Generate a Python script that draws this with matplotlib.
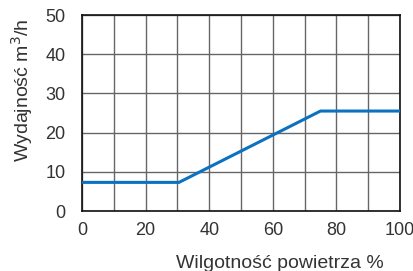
import matplotlib
matplotlib.use("Agg")
import matplotlib.pyplot as plt

humidity = [0, 30.5, 75, 100]
capacity = [7.3, 7.3, 25.5, 25.5]
x_ticks = [0, 20, 40, 60, 80, 100]
y_ticks = [0, 10, 20, 30, 40, 50]

plt.rcParams['font.family'] = ['Liberation Sans', 'DejaVu Sans']

W, H = 414, 271
fig = plt.figure(figsize=(W/100, H/100), dpi=100)
ax = fig.add_axes([82/W, 1-211/H, 318/W, 196/H])

ax.set_xlim(0, 100)
ax.set_ylim(0, 50)
ax.set_xticks(x_ticks)
ax.set_xticks(range(10, 100, 20), minor=True)
ax.set_yticks(y_ticks)
ax.grid(True, which='both', color='#666666', linewidth=1.0)
ax.set_axisbelow(True)
ax.tick_params(which='both', length=0, labelsize=13, colors='#333333', pad=8)
ax.tick_params(axis='y', pad=12)

ax.plot(humidity, capacity, color='#0a72c0', linewidth=2.2, solid_joinstyle='miter', zorder=3)

for s in ax.spines.values():
    s.set_color('#111111')
    s.set_linewidth(1.2)

fig.text(280/W, 1-263/H, 'Wilgotność powietrza %', fontsize=14, color='#333333',
         ha='center', va='center')
fig.text(22/W, 1-90/H, 'Wydajność m$^3$/h', fontsize=14, color='#333333',
         ha='center', va='center', rotation=90)

fig.savefig('out.png', dpi=100)
